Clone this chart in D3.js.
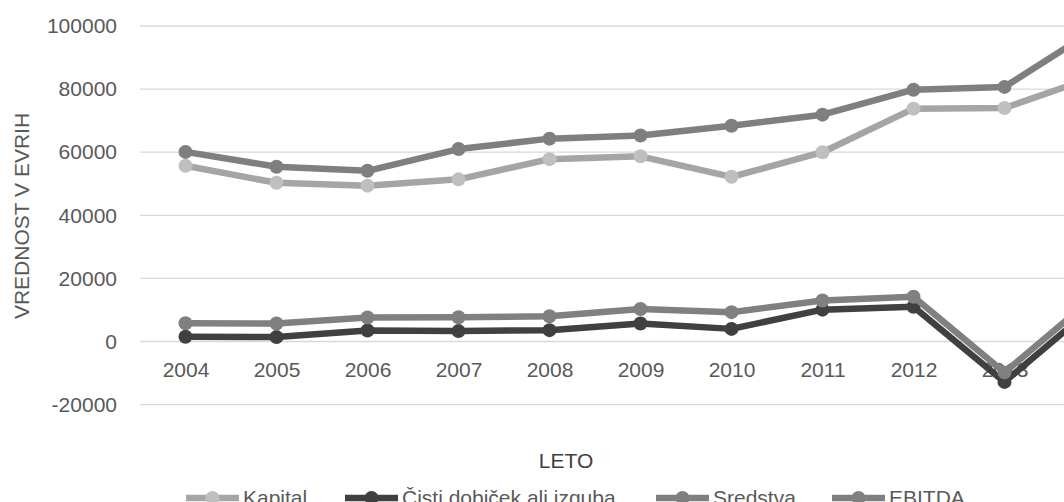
<!DOCTYPE html>
<html>
<head>
<meta charset="utf-8">
<script src="https://cdn.jsdelivr.net/npm/d3@7"></script>
<style>
html,body{margin:0;padding:0;background:#fff;overflow:hidden;}
svg{display:block;}
text{font-family:"Liberation Sans",Arial,sans-serif;}
</style>
</head>
<body>
<svg id="chart" width="1064" height="502"></svg>
<script>
const years = ["2004","2005","2006","2007","2008","2009","2010","2011","2012","2013","2014"];
const kapital  = [55700, 50300, 49400, 51400, 57800, 58700, 52200, 60000, 73800, 74000, 84000];
const cisti    = [1500, 1400, 3500, 3300, 3600, 5700, 4000, 10100, 11000, -12800, 11500];
const sredstva = [60100, 55400, 54100, 61000, 64300, 65300, 68400, 71900, 79800, 80700, 99000];
const ebitda   = [5800, 5700, 7600, 7700, 8000, 10300, 9300, 13000, 14200, -9800, 14500];
const yTicks   = [-20000, 0, 20000, 40000, 60000, 80000, 100000];
const seriesNames = ["Kapital", "Čisti dobiček ali izguba", "Sredstva", "EBITDA"];

const series = [
  {name: seriesNames[0], values: kapital,  line: "#A5A5A5", marker: "#BFBFBF"},
  {name: seriesNames[1], values: cisti,    line: "#404040", marker: "#404040"},
  {name: seriesNames[2], values: sredstva, line: "#7F7F7F", marker: "#7F7F7F"},
  {name: seriesNames[3], values: ebitda,   line: "#808080", marker: "#808080"}
];

const svg = d3.select("#chart");
const plotLeft = 140, plotRight = 1141;
const x = d3.scalePoint().domain(years).range([plotLeft, plotRight]).padding(0.5);
const y = d3.scaleLinear().domain([-20000, 100000]).range([404.6, 26]);

// gridlines
svg.append("g").selectAll("line").data(yTicks).join("line")
  .attr("x1", plotLeft).attr("x2", plotRight)
  .attr("y1", d => y(d)).attr("y2", d => y(d))
  .attr("stroke", "#D9D9D9").attr("stroke-width", 1.3);

// y axis labels
const yAxis = d3.axisLeft(y).tickValues(yTicks).tickSize(0).tickPadding(0).tickFormat(d => String(d));
const yg = svg.append("g").attr("transform", `translate(117,0)`).call(yAxis);
yg.select(".domain").remove();
yg.selectAll("text").attr("font-size", 21).attr("fill", "#595959")
  .attr("font-family", "Liberation Sans, Arial, sans-serif");

// x axis labels
const xAxis = d3.axisBottom(x).tickSize(0).tickPadding(0);
const xg = svg.append("g").attr("transform", `translate(0,362)`).call(xAxis);
xg.select(".domain").remove();
xg.selectAll("text").attr("font-size", 21).attr("fill", "#595959")
  .attr("font-family", "Liberation Sans, Arial, sans-serif");

// lines
const lineGen = d3.line().x((d, i) => x(years[i])).y(d => y(d));
series.forEach(s => {
  const g = svg.append("g");
  g.append("path").datum(s.values).attr("d", lineGen)
    .attr("fill", "none").attr("stroke", s.line).attr("stroke-width", 6.5)
    .attr("stroke-linejoin", "round").attr("stroke-linecap", "round");
  g.selectAll("circle").data(s.values).join("circle")
    .attr("cx", (d, i) => x(years[i])).attr("cy", d => y(d)).attr("r", 7)
    .attr("fill", s.marker);
});

// axis titles
svg.append("text").attr("transform", "translate(29,216) rotate(-90)")
  .attr("text-anchor", "middle").attr("font-size", 21).attr("fill", "#595959")
  .text("VREDNOST V EVRIH");
svg.append("text").attr("x", 566).attr("y", 468)
  .attr("text-anchor", "middle").attr("font-size", 21).attr("fill", "#404040")
  .text("LETO");

// legend
const legend = svg.append("g");
const legendStarts = [186, 345, 656, 832];
series.forEach((s, i) => {
  const lx = legendStarts[i], ly = 498;
  legend.append("line").attr("x1", lx).attr("x2", lx + 53).attr("y1", ly).attr("y2", ly)
    .attr("stroke", s.line).attr("stroke-width", 6.5);
  legend.append("circle").attr("cx", lx + 26.5).attr("cy", ly).attr("r", 7).attr("fill", s.marker);
  legend.append("text").attr("x", lx + 57).attr("y", 505)
    .attr("font-size", 21).attr("fill", "#595959").text(s.name);
});
</script>
</body>
</html>
